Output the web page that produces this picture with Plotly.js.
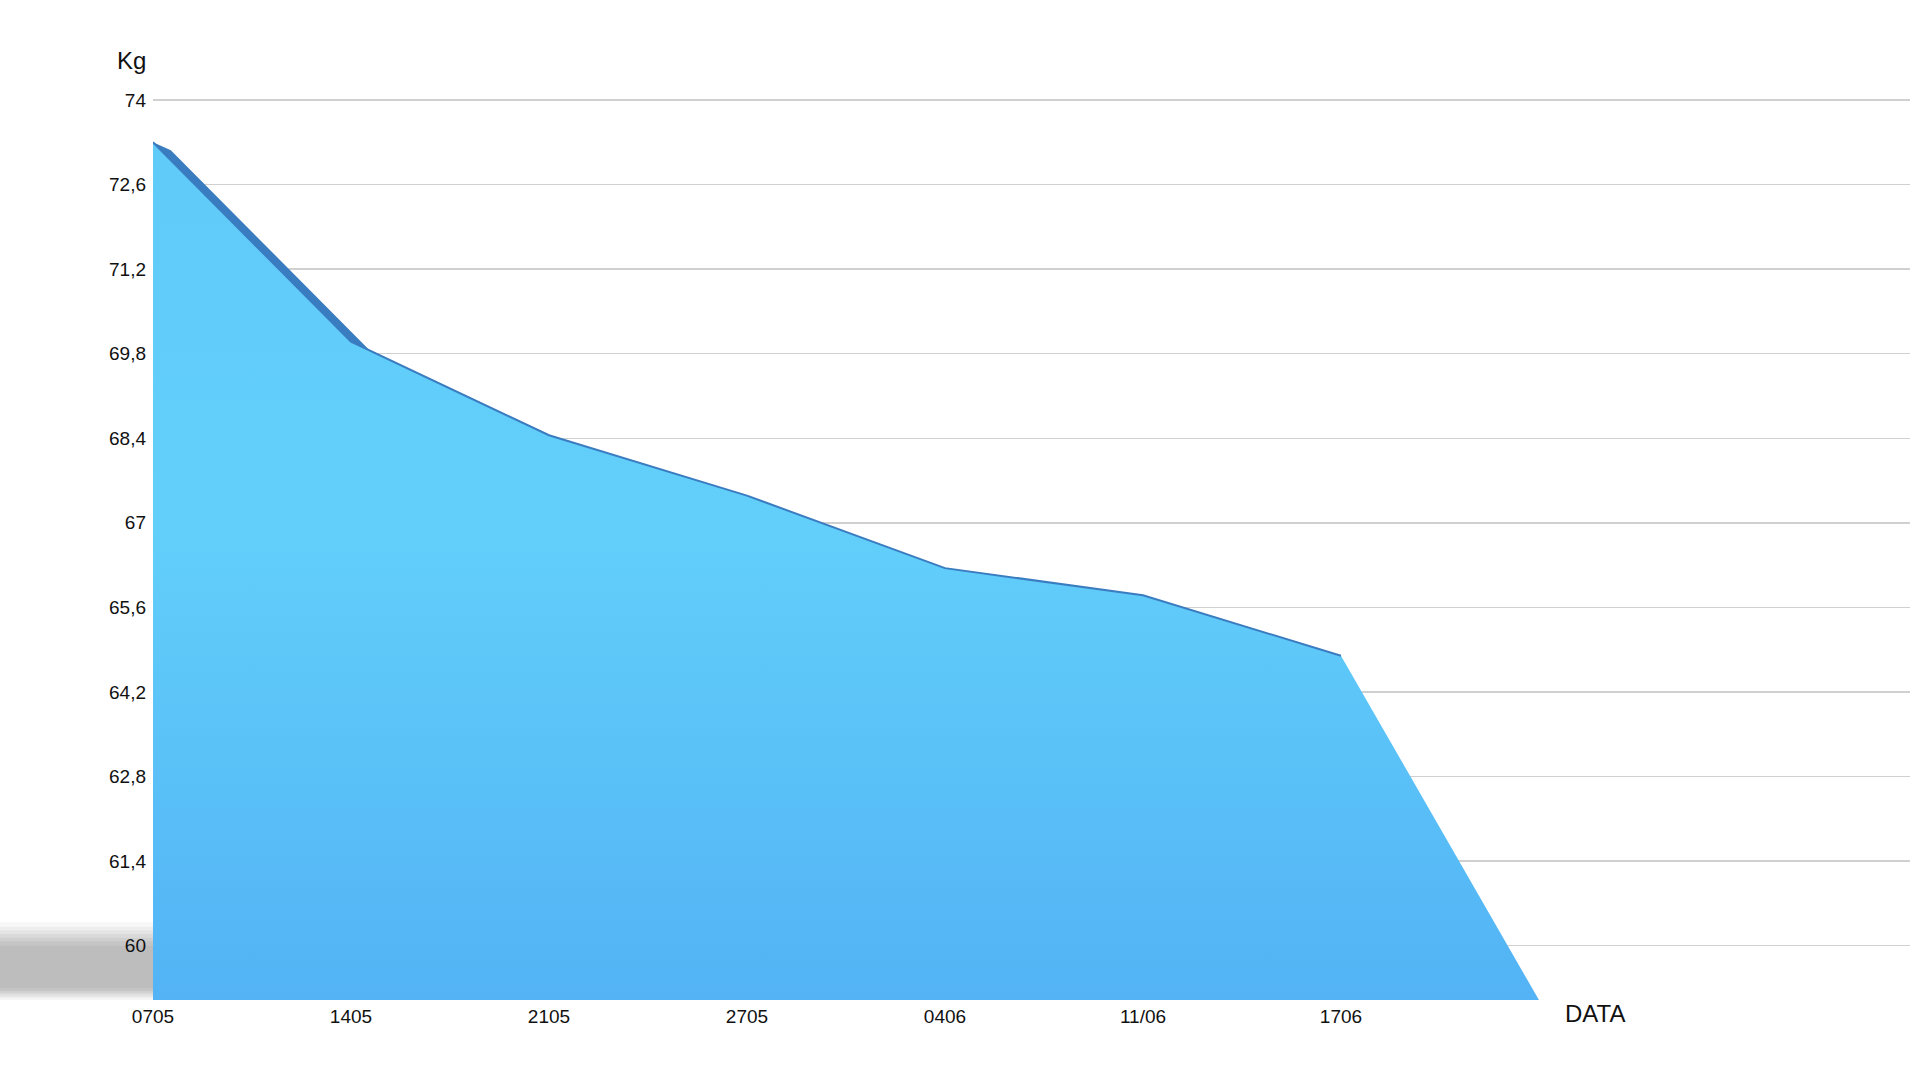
<!DOCTYPE html>
<html>
<head>
<meta charset="utf-8">
<script src="https://cdn.plot.ly/plotly-3.0.1.min.js"></script>
<style>
html,body{margin:0;padding:0;background:#fff;}
#chart{width:1920px;height:1080px;}
</style>
</head>
<body>
<div id="chart"></div>
<script>
// ---- data ----
const dates = ["0705", "1405", "2105", "2705", "0406", "11/06", "1706", ""];
const weights = [73.3, 70.0, 68.45, 67.45, 66.25, 65.8, 64.8, 59.1];
const yTickVals = [60, 61.4, 62.8, 64.2, 65.6, 67, 68.4, 69.8, 71.2, 72.6, 74];
const yTickText = ["60", "61,4", "62,8", "64,2", "65,6", "67", "68,4", "69,8", "71,2", "72,6", "74"];

// ---- styling constants ----
const font = '"Liberation Sans", Arial, Helvetica, sans-serif';
const yMin = 59.1, yMax = 74.05;
const xIdx = dates.map((d, i) => i);
const nTop = 7; // points carrying the 3D top face
const faceDx = 0.09, faceDy = -0.13; // depth offset of the 3D top face (axis units)

// 3D top face polygon (front edge + shifted back edge, closing at the last front point)
const faceX = [], faceY = [];
for (let i = 0; i < nTop; i++) { faceX.push(xIdx[i]); faceY.push(weights[i]); }
for (let i = nTop - 2; i >= 0; i--) { faceX.push(xIdx[i] + faceDx); faceY.push(weights[i] + faceDy); }

const traces = [
  {
    x: faceX, y: faceY, type: 'scatter', mode: 'lines',
    fill: 'toself', fillcolor: '#3A7CC0',
    line: {width: 0, color: '#3A7CC0'}, hoverinfo: 'skip', showlegend: false
  },
  {
    x: xIdx, y: weights, type: 'scatter', mode: 'lines',
    fill: 'tozeroy',
    fillgradient: {
      type: 'vertical', start: yMin, stop: 73.3,
      colorscale: [[0, '#53B3F5'], [0.55, '#62CFFA'], [1, '#60CAF9']]
    },
    line: {width: 0, color: '#5BC4F8'}, hoverinfo: 'skip', showlegend: false
  },
  {
    x: xIdx.slice(0, nTop), y: weights.slice(0, nTop), type: 'scatter', mode: 'lines',
    line: {width: 2, color: '#3A7CC0'}, hoverinfo: 'skip', showlegend: false
  }
];

// soft shadow at lower left (stacked translucent bands)
const shadowShapes = [];
const layers = [
  [0.000, 0.086, 0.05],
  [0.002, 0.081, 0.06],
  [0.004, 0.077, 0.07],
  [0.006, 0.073, 0.08],
  [0.008, 0.069, 0.09],
  [0.010, 0.065, 0.09],
  [0.013, 0.060, 0.08]
];
layers.forEach(l => {
  shadowShapes.push({
    type: 'rect', xref: 'paper', yref: 'paper', layer: 'below',
    x0: -0.1, x1: 0, y0: l[0], y1: l[1],
    fillcolor: 'rgba(100,100,100,' + l[2] + ')', line: {width: 0}
  });
});

const layout = {
  width: 1920, height: 1080,
  paper_bgcolor: '#ffffff', plot_bgcolor: '#ffffff',
  margin: {l: 153, r: 10, t: 97, b: 80},
  font: {family: font, color: '#111', size: 19},
  showlegend: false,
  xaxis: {
    range: [0, 8.874], tickvals: xIdx.slice(0, nTop), ticktext: dates.slice(0, nTop),
    showgrid: false, zeroline: false, showline: false, ticks: '',
    tickfont: {family: font, size: 19, color: '#111'}, ticklabelstandoff: 3
  },
  yaxis: {
    range: [yMin, yMax], tickvals: yTickVals, ticktext: yTickText,
    showgrid: true, gridcolor: '#D0D0D0', gridwidth: 1.5,
    zeroline: false, showline: false, ticks: '',
    tickfont: {family: font, size: 19, color: '#111'}, ticklabelstandoff: 6
  },
  shapes: shadowShapes,
  annotations: [
    {text: 'Kg', xref: 'paper', yref: 'paper', x: -0.0125, y: 1.040,
     xanchor: 'center', yanchor: 'middle',
     showarrow: false, font: {family: font, size: 24, color: '#111'}},
    {text: 'DATA', xref: 'paper', yref: 'paper', x: 0.8207, y: -0.0144,
     xanchor: 'center', yanchor: 'middle',
     showarrow: false, font: {family: font, size: 24, color: '#111'}}
  ]
};

Plotly.newPlot('chart', traces, layout, {staticPlot: true, displayModeBar: false});
</script>
</body>
</html>
